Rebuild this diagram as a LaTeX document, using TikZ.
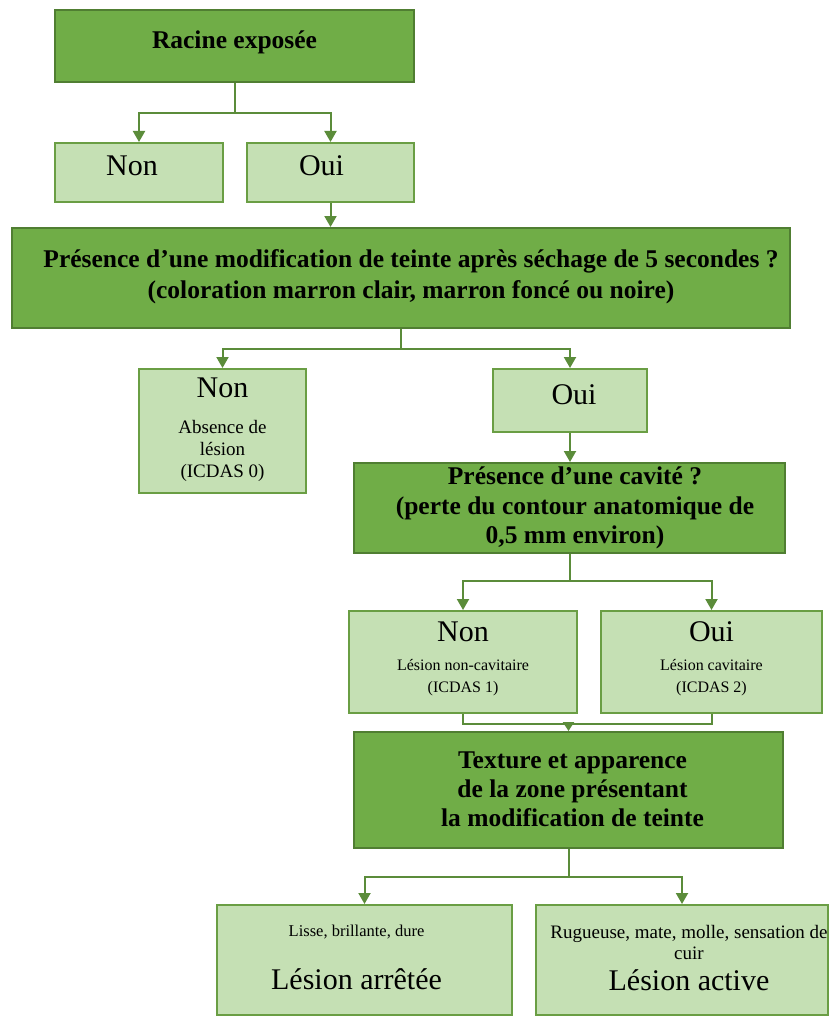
\documentclass[tikz,border=0pt]{standalone}
\usepackage{fontspec}
\setmainfont{Liberation Serif}
\usetikzlibrary{arrows.meta}
\definecolor{fillD}{HTML}{70AD47}
\definecolor{bordD}{HTML}{507E32}
\definecolor{fillL}{HTML}{C5E0B4}
\definecolor{bordL}{HTML}{6A9E44}
\definecolor{lineC}{HTML}{5B8C3A}
\tikzset{
  dark/.style={draw=bordD, fill=fillD, line width=2pt, inner sep=0pt,
    font=\bfseries\fontsize{25.5}{30}\selectfont},
  light/.style={draw=bordL, fill=fillL, line width=2pt, inner sep=0pt,
    font=\fontsize{30}{33}\selectfont},
  conn/.style={draw=lineC, line width=2pt},
  arr/.style={conn, -{Triangle[width=12pt,length=11pt]}},
  arrs/.style={conn, -{Triangle[width=11pt,length=9pt]}}
}
\newcommand{\stk}[2]{\vbox{\baselineskip=#1\lineskiplimit=-1000pt\lineskip=0pt\halign{\hfil##\hfil\cr#2\crcr}}}
\newcommand{\fA}{\fontsize{19}{22}\selectfont}
\newcommand{\fB}{\fontsize{16}{21}\selectfont}
\newcommand{\fL}{\fontsize{16.5}{21}\selectfont}
\newcommand{\fR}{\fontsize{19}{21}\selectfont}
\newcommand{\fX}{\fontsize{30}{33}\selectfont}
\begin{document}
\begin{tikzpicture}[x=1pt,y=-1pt]
\useasboundingbox (0,0) rectangle (830,1019);
\fill[white] (0,0) rectangle (830,1019);
% boxes
\node[dark, minimum width=359, minimum height=72] (racine) at (234.5,46) {\raisebox{13pt}{Racine exposée}};
\node[light, minimum width=168, minimum height=59] (non1) at (139,172.5) {\raisebox{13pt}{Non}\kern14pt};
\node[light, minimum width=167, minimum height=59] (oui1) at (330.5,172.5) {\raisebox{13pt}{Oui}\kern18pt};
\node[dark, minimum width=778, minimum height=100] (pres) at (401,278)
  {\kern20pt\raisebox{7.5pt}{\stk{31pt}{Présence d’une modification de teinte après séchage de 5 secondes ?\cr(coloration marron clair, marron foncé ou noire)}}};
\node[light, minimum width=167, minimum height=124] (non2) at (222.5,431)
  {\raisebox{6pt}{\stk{22pt}{Non\cr\noalign{\vskip14pt}\fA Absence de\cr\fA lésion\cr\fA (ICDAS 0)}}};
\node[light, minimum width=154, minimum height=63] (oui2) at (570,400.5) {\kern8pt\raisebox{11pt}{Oui}};
\node[dark, minimum width=431, minimum height=90] (cav) at (569.5,508)
  {\kern11pt\raisebox{-1pt}{\stk{29.5pt}{Présence d’une cavité ?\cr(perte du contour anatomique de\cr0,5 mm environ)}}};
\node[light, minimum width=228, minimum height=102] (non3) at (463,662)
  {\raisebox{10.5pt}{\stk{22pt}{Non\cr\noalign{\vskip7pt}\fB Lésion non-cavitaire\cr\fB (ICDAS 1)}}};
\node[light, minimum width=221, minimum height=102] (oui3) at (711.5,662)
  {\raisebox{10.5pt}{\stk{22pt}{Oui\cr\noalign{\vskip7pt}\fB Lésion cavitaire\cr\fB (ICDAS 2)}}};
\node[dark, minimum width=429, minimum height=116] (tex) at (568.5,790)
  {\kern8pt\raisebox{1.5pt}{\stk{29pt}{Texture et apparence\cr de la zone présentant\cr la modification de teinte}}};
\node[light, minimum width=295, minimum height=110] (lisse) at (364.5,960)
  {\raisebox{5pt}{\stk{53pt}{\fL Lisse, brillante, dure\cr\fX Lésion arrêtée}}\kern16pt};
\node[light, minimum width=292, minimum height=110] (rug) at (682,960)
  {\kern14pt\raisebox{4pt}{\stk{21pt}{\fR Rugueuse, mate, molle, sensation de\cr\fR cuir\cr\noalign{\vskip10pt}\fX Lésion active}}};
% connectors
\draw[conn] (racine.south) -- ++(0,30) coordinate (j1);
\draw[arr] (j1) -| (non1.north);
\draw[arr] (j1) -| (oui1.north);
\draw[arr] (oui1.south) -- (oui1.south |- pres.north);
\draw[conn] (pres.south) -- ++(0,20) coordinate (j2);
\draw[arr] (j2) -| (non2.north);
\draw[arr] (j2) -| (oui2.north);
\draw[arr] (oui2.south) -- (oui2.south |- cav.north);
\draw[conn] (cav.south) -- ++(0,27) coordinate (j3);
\draw[arr] (j3) -| (non3.north);
\draw[arr] (j3) -| (oui3.north);
\draw[conn] (non3.south) -- ++(0,10) coordinate (j4) -| (oui3.south);
\draw[arrs] (j4 -| tex.north) -- (tex.north);
\draw[conn] (tex.south) -- ++(0,28) coordinate (j5);
\draw[arr] (j5) -| (lisse.north);
\draw[arr] (j5) -| (rug.north);
\end{tikzpicture}
\end{document}
